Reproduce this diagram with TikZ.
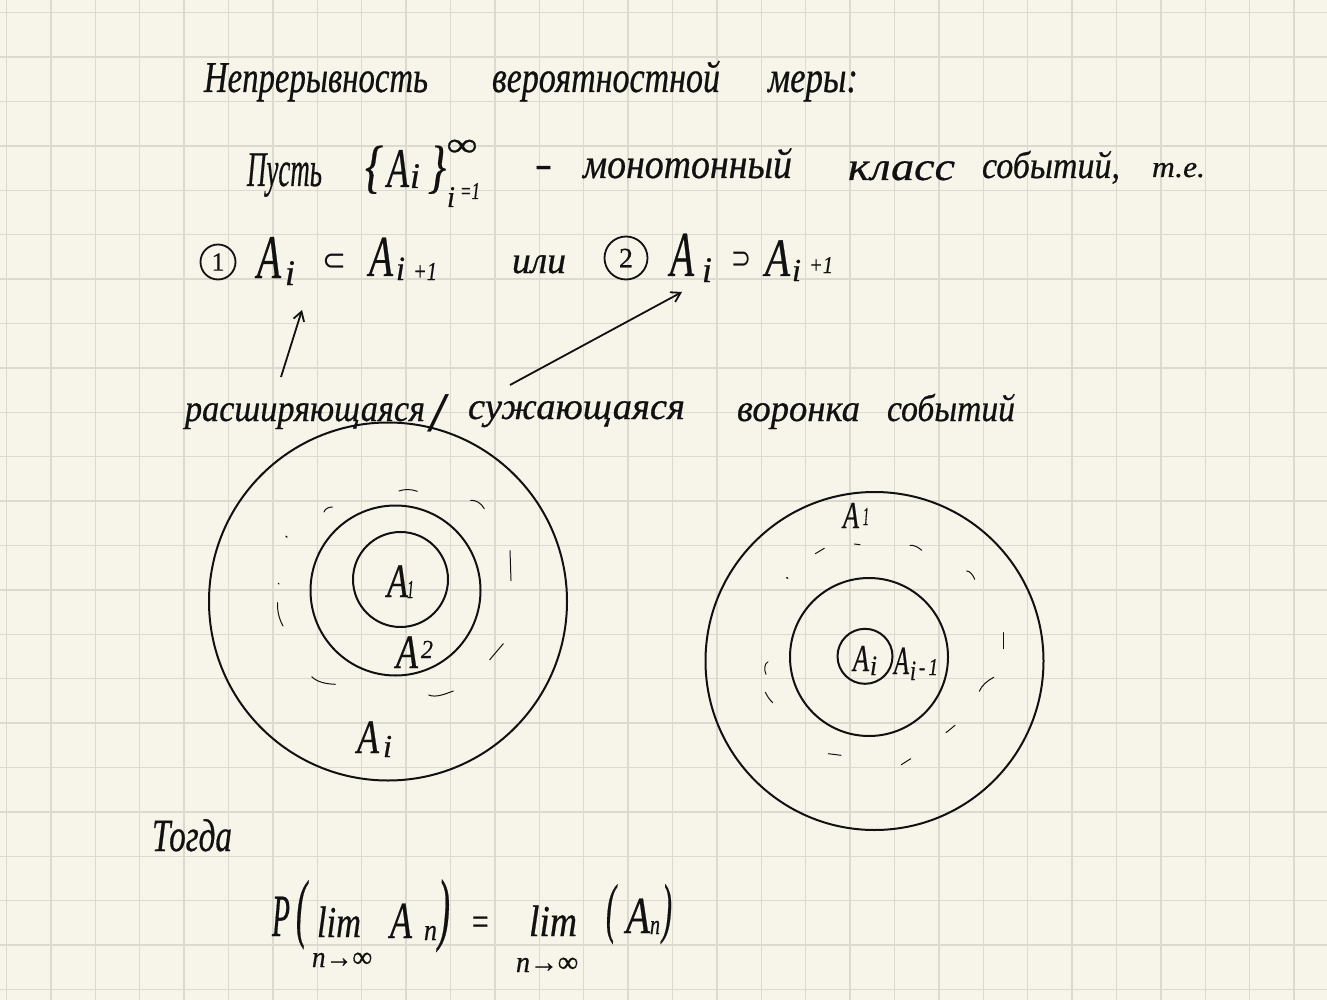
\documentclass[tikz,border=0pt]{standalone}
\usepackage{fontspec}
\usepackage{graphicx}
\setmainfont{Liberation Serif}[ItalicFeatures={FakeBold=0.6},UprightFeatures={FakeBold=0.6}]
\newfontfamily\symfont{DejaVu Sans}
\newfontfamily\plainserif{Liberation Serif}
\usetikzlibrary{arrows.meta}
\definecolor{paper}{HTML}{F7F5EA}
\definecolor{gridc}{HTML}{DCDACE}
\definecolor{ink}{HTML}{111111}
\newcommand{\hw}[3]{\fontsize{#1}{#1}\selectfont\itshape\resizebox{#2pt}{\height}{#3}}
\tikzset{
  x=1pt,y=-1pt,
  gridline/.style={gridc,line width=1.3pt},
  hand/.style={anchor=base west,inner sep=0pt,outer sep=0pt,text=ink},
  ring/.style={draw=ink,line width=2pt,circle,inner sep=0pt,outer sep=0pt},
  tick/.style={draw=ink,line width=1pt,line cap=round},
  numring/.style={draw=ink,line width=1.8pt,circle,inner sep=0pt,text=ink},
  conn/.style={draw=ink,line width=1.8pt,-{Straight Barb[length=9pt,width=11pt]}}
}
\begin{document}
\begin{tikzpicture}
\useasboundingbox (0,0) rectangle (1327,1000);
\fill[paper] (0,0) rectangle (1327,1000);
\foreach \i in {0,...,29} \draw[gridline] ({6.5+44.4*\i},0) -- ({6.5+44.4*\i},1000);
\foreach \i in {0,...,22} \draw[gridline] (0,{12.7+44.4*\i}) -- (1327,{12.7+44.4*\i});

% title
\node[hand] (t1) at (204,92) {\hw{44}{224}{Непрерывность}};
\node[hand] (t2) at (492,92) {\hw{44}{228}{вероятностной}};
\node[hand] (t3) at (768,92) {\hw{44}{90}{меры:}};

% second line
\node[hand] (l1) at (247,186) {\hw{50}{75}{Пусть}};
\node[hand] (brl) at (365,186) {\hw{58}{18}{\{}};
\node[hand] (la) at (387,187) {\hw{56}{22}{A}};
\node[hand] (li) at (410,188) {\hw{36}{10}{i}};
\node[hand] (brr) at (428,186) {\hw{58}{18}{\}}};
\node[hand] (linf) at (447,156) {\hw{34}{30}{∞}};
\node[hand] (lsub) at (447,207) {\hw{30}{8}{i}};
\node[hand] (lsub2) at (460,199) {\hw{24}{20}{=1}};
\node[hand] (ldash) at (535,177) {\hw{40}{17}{-}};
\node[hand] (l2) at (583,178) {\hw{42}{209}{монотонный}};
\node[hand] (l3) at (848,180) {\hw{40}{107}{класс}};
\node[hand] (l4) at (982,178) {\hw{38}{138}{событий,}};
\node[hand] (l5) at (1152,177) {\hw{30}{53}{т.е.}};

% third line
\node[numring,minimum size=35pt] (c1) at (218,262) {\fontsize{26}{26}\selectfont 1};
\node[hand] (a1) at (257,278) {\hw{62}{24}{A}};
\node[hand] (a1i) at (285,285) {\hw{36}{10}{i}};
\node[hand] (sub1) at (322,270) {\symfont\fontsize{30}{30}\selectfont\resizebox{24pt}{\height}{⊂}};
\node[hand] (a2) at (369,276) {\hw{58}{24}{A}};
\node[hand] (a2i) at (396,280) {\hw{34}{9}{i}};
\node[hand] (a2p) at (413,280) {\hw{26}{24}{+1}};
\node[hand] (ili) at (512,273) {\hw{38}{54}{или}};
\node[numring,minimum size=43pt] (c2) at (626,258) {\fontsize{28}{28}\selectfont 2};
\node[hand] (a3) at (670,276) {\hw{64}{24}{A}};
\node[hand] (a3i) at (702,282) {\hw{36}{10}{i}};
\node[hand] (sup1) at (731,268) {\symfont\fontsize{30}{30}\selectfont\resizebox{20pt}{\height}{⊃}};
\node[hand] (a4) at (765,276) {\hw{54}{25}{A}};
\node[hand] (a4i) at (792,281) {\hw{32}{9}{i}};
\node[hand] (a4p) at (809,273) {\hw{24}{24}{+1}};

% fourth line
\node[hand] (w1) at (185,421) {\hw{38}{240}{расширяющаяся}};
\node[hand] (w2) at (427,431) {\plainserif\fontsize{56}{56}\selectfont\resizebox{22pt}{\height}{/}};
\node[hand] (w3) at (468,419) {\hw{38}{217}{сужающаяся}};
\node[hand] (w4) at (737,421) {\hw{38}{123}{воронка}};
\node[hand] (w5) at (887,421) {\hw{38}{128}{событий}};

% arrows
\coordinate (ar1s) at (281,377);
\coordinate (ar1e) at (302,310);
\coordinate (ar2s) at (510,385);
\coordinate (ar2e) at (682,292);
\draw[conn] (ar1s) -- (ar1e);
\draw[conn] (ar2s) -- (ar2e);

% left circles
\node[ring,minimum size=358pt] (o1) at (388,601.5) {};
\node[ring,minimum size=170pt] (o2) at (395.5,590.5) {};
\node[ring,minimum size=95pt] (o3) at (400.5,579.5) {};
\node[hand] (la1) at (387,597) {\hw{48}{21}{A}};
\node[hand] (la1s) at (407,598) {\hw{26}{7}{1}};
\node[hand] (la2) at (396,668) {\hw{48}{22}{A}};
\node[hand] (la2s) at (421,658) {\hw{26}{12}{2}};
\node[hand] (lai) at (357,753) {\hw{48}{22}{A}};
\node[hand] (laii) at (383,757) {\hw{32}{9}{i}};

% left ticks
\draw[tick] (399,491) .. controls (404,489) and (411,489) .. (417.3,491.3);
\draw[tick] (324,512) .. controls (325,509) and (328,507) .. (332.3,507);
\draw[tick] (470.7,500.3) .. controls (476,500) and (481,503) .. (484.3,508.7);
\draw[tick,line width=1.4pt] (286,536.3) -- (287,537);
\draw[tick,line width=1.4pt] (278.3,583.3) -- (278.8,583.8);
\draw[tick] (277.7,602.7) .. controls (277,610) and (279,619) .. (283,626);
\draw[tick] (510,550.7) -- (511,580.7);
\draw[tick] (489.7,659.7) -- (503.3,643.7);
\draw[tick] (311.7,676.7) .. controls (317,682) and (326,684) .. (335.3,684.3);
\draw[tick] (428.7,695) .. controls (436,698) and (445,694) .. (453.3,691);

% right circles
\node[ring,minimum size=338pt] (r1) at (874.5,661) {};
\node[ring,minimum size=158pt] (r2) at (869,657) {};
\node[ring,minimum size=55pt] (r3) at (865,656.3) {};
\node[hand] (ra1) at (843,528) {\hw{38}{16}{A}};
\node[hand] (ra1s) at (863,525) {\hw{26}{6}{1}};
\node[hand] (rai) at (853,671) {\hw{38}{16}{A}};
\node[hand] (raii) at (870,675) {\hw{28}{7}{i}};
\node[hand] (rb) at (894,674) {\hw{40}{15}{A}};
\node[hand] (rbi) at (910,680) {\hw{28}{6}{i}};
\node[hand] (rbs) at (919,675) {\hw{24}{19}{-\,1}};

% right ticks
\draw[tick] (815.3,553.7) -- (824.3,548.3);
\draw[tick] (854.3,544) -- (860,544.7);
\draw[tick] (910,545.3) .. controls (914,545) and (918,547) .. (921.7,550.3);
\draw[tick] (966.7,571) .. controls (970,571) and (973,575) .. (974.7,579.3);
\draw[tick,line width=1.4pt] (786.7,577.7) -- (787.7,578.2);
\draw[tick] (1003.7,632.7) -- (1003.7,648.7);
\draw[tick] (993.7,677.3) .. controls (987,681) and (982,685) .. (979.3,691.3);
\draw[tick] (768,661.7) .. controls (764,664) and (764,670) .. (766,674.3);
\draw[tick] (765.3,692.3) .. controls (767,696) and (769,699) .. (772.7,702.7);
\draw[tick] (946,732.7) -- (955,725.3);
\draw[tick] (901.3,764.7) -- (910.7,758.7);
\draw[tick] (828.3,753.7) -- (841,755.3);

% bottom
\node[hand] (th) at (152,851) {\hw{46}{80}{Тогда}};
\node[hand] (fp) at (272,936) {\hw{60}{18}{P}};
\node[hand] (fo) at (296,933) {\hw{76}{11}{(}};
\node[hand] (flim) at (317,937) {\hw{44}{44}{lim}};
\node[hand] (fa) at (390,938) {\hw{52}{22}{A}};
\node[hand] (fn) at (424,940) {\hw{30}{13}{n}};
\node[hand] (fc) at (438,935) {\hw{80}{12}{)}};
\node[hand] (feq) at (470,935) {\hw{40}{20}{=}};
\node[hand] (flim2) at (529,936) {\hw{44}{48}{lim}};
\node[hand] (fo2) at (606,930) {\hw{66}{10}{(}};
\node[hand] (fa2) at (626,933) {\hw{52}{24}{A}};
\node[hand] (fn2) at (650,934) {\hw{28}{10}{n}};
\node[hand] (fc2) at (662,930) {\hw{66}{10}{)}};
\node[hand] (fsub) at (312,967) {\hw{30}{60}{n→∞}};
\node[hand] (fsub2) at (516,972) {\hw{30}{62}{n→∞}};
\end{tikzpicture}
\end{document}
